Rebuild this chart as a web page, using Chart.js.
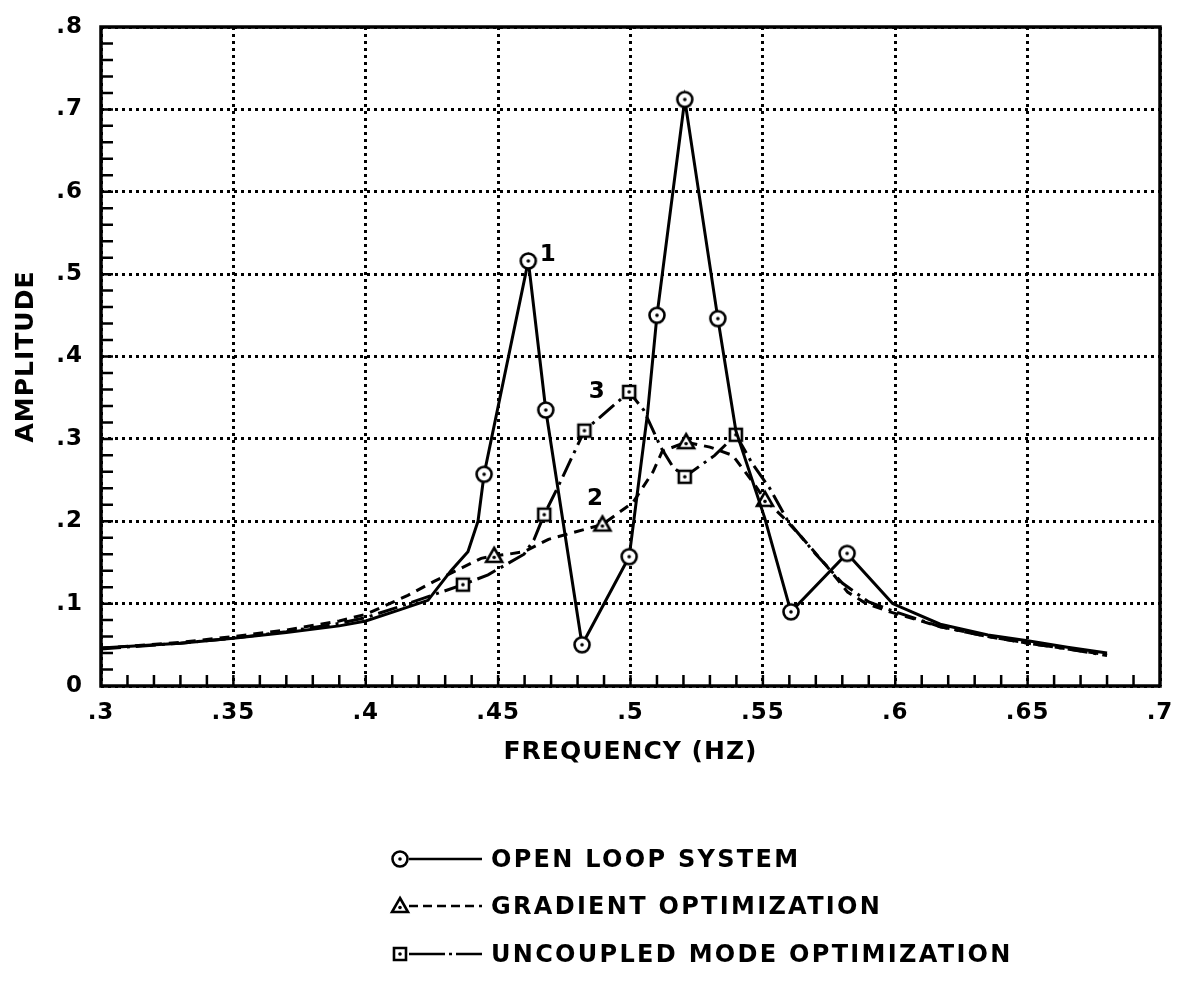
<!DOCTYPE html>
<html>
<head>
<meta charset="utf-8">
<title>Amplitude vs Frequency</title>
<script src="https://cdn.jsdelivr.net/npm/chart.js@4.4.1/dist/chart.umd.min.js"></script>
<style>
  html, body { margin: 0; padding: 0; background: #fff; }
  #wrap { position: relative; width: 1177px; height: 800px; }
  #legend { position: absolute; left: 385px; top: 835px; font-family: "DejaVu Sans", sans-serif; }
  .lg-row { display: flex; align-items: center; height: 47.5px; }
  .lg-row canvas { display: block; margin-right: 6px; }
  .lg-row span { font-size: 24px; font-weight: bold; letter-spacing: 2.3px; color: #000; }
</style>
</head>
<body>
<div id="wrap"><canvas id="chart"></canvas></div>
<div id="legend"></div>

<script>
// ── Data ───────────────────────────────────────────────────
const openFreq = [0.30, 0.33, 0.35, 0.37, 0.39, 0.40, 0.4133, 0.4235, 0.4322, 0.4386, 0.4424, 0.4447, 0.4614, 0.468, 0.4817,
                  0.4995, 0.5064, 0.510, 0.5205, 0.533, 0.5398, 0.5506, 0.5606, 0.5818, 0.599, 0.617, 0.635, 0.65, 0.665, 0.68];
const openAmp  = [0.046, 0.052, 0.058, 0.065, 0.073, 0.079, 0.093, 0.104, 0.140, 0.163, 0.200, 0.257, 0.516, 0.335, 0.050,
                  0.157, 0.330, 0.450, 0.712, 0.446, 0.310, 0.205, 0.090, 0.161, 0.100, 0.075, 0.062, 0.055, 0.047, 0.040];
const openMarks = [11, 12, 13, 14, 15, 17, 18, 19, 22, 23];

const gradFreq = [0.30, 0.33, 0.35, 0.37, 0.39, 0.40, 0.4159, 0.4258, 0.436, 0.4436, 0.4485, 0.4538, 0.4598, 0.469, 0.4894,
                  0.501, 0.5085, 0.512, 0.521, 0.530, 0.5386, 0.547, 0.5508, 0.5576, 0.564, 0.574, 0.582, 0.589, 0.598,
                  0.617, 0.635, 0.65, 0.665, 0.68];
const gradAmp  = [0.046, 0.053, 0.060, 0.068, 0.079, 0.087, 0.110, 0.127, 0.143, 0.155, 0.158, 0.160, 0.163, 0.178, 0.196,
                  0.223, 0.260, 0.285, 0.296, 0.290, 0.280, 0.244, 0.226, 0.205, 0.183, 0.146, 0.114, 0.100, 0.090,
                  0.072, 0.060, 0.052, 0.045, 0.038];
const gradMarks = [10, 14, 18, 22];

const uncFreq = [0.30, 0.33, 0.35, 0.37, 0.39, 0.40, 0.4133, 0.4258, 0.4367, 0.4462, 0.4511, 0.4598, 0.4636, 0.4674, 0.4731,
                 0.4826, 0.4995, 0.505, 0.5114, 0.516, 0.5205, 0.5318, 0.5398, 0.546, 0.5526, 0.5595, 0.570, 0.580, 0.590,
                 0.600, 0.617, 0.635, 0.65, 0.665, 0.68];
const uncAmp  = [0.045, 0.052, 0.058, 0.066, 0.076, 0.083, 0.097, 0.111, 0.123, 0.135, 0.144, 0.160, 0.178, 0.208, 0.245,
                 0.310, 0.357, 0.335, 0.290, 0.266, 0.254, 0.280, 0.305, 0.270, 0.240, 0.200, 0.160, 0.125, 0.102,
                 0.090, 0.072, 0.060, 0.052, 0.045, 0.037];
const uncMarks = [8, 13, 15, 16, 20, 22];

const seriesNames = ['OPEN LOOP SYSTEM', 'GRADIENT OPTIMIZATION', 'UNCOUPLED MODE OPTIMIZATION'];
const xTicks = [0.3, 0.35, 0.4, 0.45, 0.5, 0.55, 0.6, 0.65, 0.7];
const yTicks = [0, 0.1, 0.2, 0.3, 0.4, 0.5, 0.6, 0.7, 0.8];
// labelled points: [dataset, index, text]
const pointNotes = [[0, 12, '1'], [1, 14, '2'], [2, 16, '3']];

const FONT = '"DejaVu Sans", sans-serif';

// ── Markers (open symbol with a centre dot) ────────────────
function makeMarker(kind) {
  const c = document.createElement('canvas');
  c.width = 22; c.height = 22;
  const g = c.getContext('2d');
  g.lineWidth = 2.6; g.strokeStyle = '#000'; g.fillStyle = '#fff';
  g.beginPath();
  if (kind === 'circle') g.arc(11, 11, 7.5, 0, Math.PI * 2);
  else if (kind === 'triangle') { g.moveTo(11, 3); g.lineTo(19, 17); g.lineTo(3, 17); g.closePath(); }
  else g.rect(5, 5, 12, 12);
  g.fill(); g.stroke();
  g.fillStyle = '#000';
  g.beginPath(); g.arc(11, kind === 'triangle' ? 12.5 : 11, 1.8, 0, Math.PI * 2); g.fill();
  return c;
}
const markers = [makeMarker('circle'), makeMarker('triangle'), makeMarker('square')];
const dashes = [[], [10, 7], [20, 6, 3, 6]];

function toPts(xs, ys) { return xs.map((x, i) => ({ x, y: ys[i] })); }
function fmt(v) { return v === 0 ? '0' : String(Number(v.toFixed(2))).replace(/^0/, ''); }

function series(label, xs, ys, marks, i) {
  return {
    label, data: toPts(xs, ys),
    borderColor: '#000', borderWidth: 3, borderDash: dashes[i],
    tension: 0, fill: false,
    pointStyle: markers[i],
    pointRadius: ctx => marks.includes(ctx.dataIndex) ? 8 : 0,
    pointHoverRadius: ctx => marks.includes(ctx.dataIndex) ? 8 : 0,
  };
}

// wide plotter-style lettering
const spacing = {
  id: 'spacing',
  beforeInit(chart) { chart.ctx.letterSpacing = '1px'; },
  beforeDraw(chart) { chart.ctx.letterSpacing = '1px'; }
};

// frame, inward minor ticks and the 1/2/3 point notes
const decor = {
  id: 'decor',
  afterDraw(chart) {
    const { ctx, chartArea: a, scales: { x, y } } = chart;
    ctx.save();
    ctx.strokeStyle = '#000';
    ctx.lineWidth = 2.5;
    ctx.beginPath();
    for (let v = 0.31; v < 0.7; v += 0.01) {
      const px = x.getPixelForValue(v);
      ctx.moveTo(px, a.bottom); ctx.lineTo(px, a.bottom - 11);
    }
    for (let v = 0.02; v < 0.8; v += 0.02) {
      const py = y.getPixelForValue(v);
      ctx.moveTo(a.left, py); ctx.lineTo(a.left + 12, py);
    }
    ctx.stroke();
    ctx.lineWidth = 3.5;
    ctx.strokeRect(a.left, a.top, a.right - a.left, a.bottom - a.top);

    ctx.fillStyle = '#000';
    ctx.font = 'bold 23px ' + FONT;
    ctx.textBaseline = 'middle';
    const offs = { '1': [20, -6], '2': [-7, -26], '3': [-32, 0] };
    pointNotes.forEach(([d, i, t]) => {
      const p = chart.getDatasetMeta(d).data[i];
      ctx.textAlign = 'center';
      ctx.fillText(t, p.x + offs[t][0], p.y + offs[t][1]);
    });
    ctx.restore();
  }
};

const chart = new Chart(document.getElementById('chart'), {
  type: 'line',
  data: {
    datasets: [
      series(seriesNames[0], openFreq, openAmp, openMarks, 0),
      series(seriesNames[1], gradFreq, gradAmp, gradMarks, 1),
      series(seriesNames[2], uncFreq, uncAmp, uncMarks, 2),
    ]
  },
  options: {
    responsive: true, maintainAspectRatio: false, animation: false,
    layout: { padding: { top: 27, right: 17, left: 0, bottom: 0 } },
    plugins: { legend: { display: false }, tooltip: { enabled: false } },
    scales: {
      x: {
        type: 'linear', min: 0.3, max: 0.7,
        afterBuildTicks: s => { s.ticks = xTicks.map(value => ({ value })); },
        afterFit: s => { s.height = 114; s.paddingLeft = 0; s.paddingRight = 0; },
        grid: { color: '#000', lineWidth: 3, drawTicks: false },
        border: { display: false, dash: [3, 4] },
        ticks: { color: '#000', padding: 13, maxRotation: 0, font: { family: FONT, size: 23, weight: 'bold' }, callback: v => fmt(v) },
        title: { display: true, text: 'FREQUENCY (HZ)', color: '#000', padding: { top: 0, bottom: 33 },
                 font: { family: FONT, size: 25, weight: 'bold' } }
      },
      y: {
        min: 0, max: 0.8,
        afterBuildTicks: s => { s.ticks = yTicks.map(value => ({ value })); },
        afterFit: s => { s.width = 101; s.paddingTop = 0; s.paddingBottom = 0; },
        grid: { color: '#000', lineWidth: 3, drawTicks: false },
        border: { display: false, dash: [3, 4] },
        ticks: { color: '#000', padding: 18, font: { family: FONT, size: 23, weight: 'bold' }, callback: v => fmt(v) },
        title: { display: true, text: 'AMPLITUDE', color: '#000', padding: { top: 11, bottom: 0 },
                 font: { family: FONT, size: 25, weight: 'bold' } }
      }
    }
  },
  plugins: [spacing, decor]
});

// ── Legend ─────────────────────────────────────────────────
const legendEl = document.getElementById('legend');
seriesNames.forEach((name, i) => {
  const row = document.createElement('div');
  row.className = 'lg-row';
  const c = document.createElement('canvas');
  c.width = 100; c.height = 24;
  const g = c.getContext('2d');
  g.strokeStyle = '#000'; g.lineWidth = 2.5;
  g.setLineDash(i === 1 ? [9, 5] : i === 2 ? [36, 4, 3, 4] : []);
  g.beginPath(); g.moveTo(24, 12); g.lineTo(97, 12); g.stroke();
  g.drawImage(markers[i], 15 - 11, 12 - 11);
  const t = document.createElement('span');
  t.textContent = name;
  row.appendChild(c); row.appendChild(t);
  legendEl.appendChild(row);
});
</script>
</body>
</html>
